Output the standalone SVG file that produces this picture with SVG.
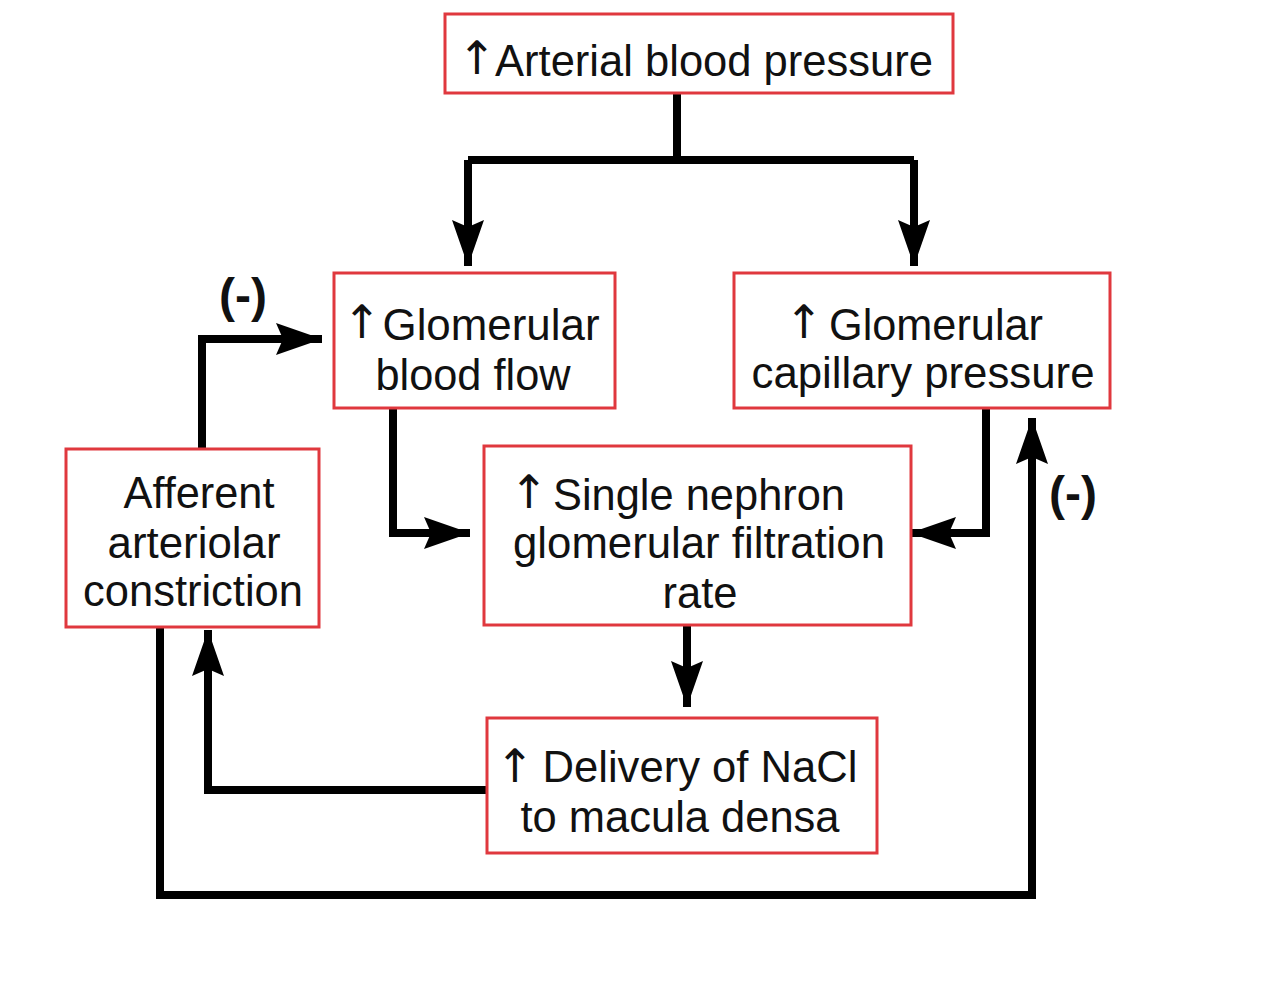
<svg xmlns="http://www.w3.org/2000/svg" width="1270" height="996" viewBox="0 0 1270 996">
<defs>
<marker id="ah" markerUnits="userSpaceOnUse" markerWidth="50" markerHeight="40" refX="46" refY="18" orient="auto">
<path d="M46,18 L0,2 L7,18 L0,34 Z" fill="#000"/>
</marker>
<style>
.box{fill:#fff;stroke:#e0383e;stroke-width:3}
.t{font-family:"Liberation Sans",Arial,sans-serif;font-size:44px;fill:#111;text-anchor:middle}
.up{font-family:"DejaVu Sans","Liberation Sans",sans-serif;font-size:46px;fill:#111;text-anchor:middle}
.c{fill:none;stroke:#000;stroke-width:8;stroke-linejoin:miter}
.m{font-family:"Liberation Sans",Arial,sans-serif;font-size:48px;font-weight:bold;fill:#111;text-anchor:middle}
</style>
</defs>
<rect width="1270" height="996" fill="#fff"/>
<g id="connectors">
<path class="c" d="M677,93 V160 M468,160 H914"/>
<path class="c" d="M468,160 V266" marker-end="url(#ah)"/>
<path class="c" d="M914,160 V266" marker-end="url(#ah)"/>
<path class="c" d="M202,449 V339 H322" marker-end="url(#ah)"/>
<path class="c" d="M393,408 V533 H470" marker-end="url(#ah)"/>
<path class="c" d="M986,408 V533 H910" marker-end="url(#ah)"/>
<path class="c" d="M687,625 V707" marker-end="url(#ah)"/>
<path class="c" d="M487,790 H208 V630" marker-end="url(#ah)"/>
<path class="c" d="M160,627 V895 H1032 V418" marker-end="url(#ah)"/>
<text class="m" x="243" y="312">(-)</text>
<text class="m" x="1073" y="510">(-)</text>
</g>
<g id="arterial">
<rect class="box" x="445" y="14" width="508" height="79"/>
<text class="up" x="477" y="74">↑</text>
<text class="t" x="714" y="76" textLength="438" lengthAdjust="spacingAndGlyphs">Arterial blood pressure</text>
</g>
<g id="gbf">
<rect class="box" x="334" y="273" width="281" height="135"/>
<text class="up" x="362" y="338">↑</text>
<text class="t" x="491" y="340" textLength="217" lengthAdjust="spacingAndGlyphs">Glomerular</text>
<text class="t" x="473" y="390" textLength="195" lengthAdjust="spacingAndGlyphs">blood flow</text>
</g>
<g id="gcp">
<rect class="box" x="734" y="273" width="376" height="135"/>
<text class="up" x="804" y="338">↑</text>
<text class="t" x="936" y="340" textLength="214" lengthAdjust="spacingAndGlyphs">Glomerular</text>
<text class="t" x="923" y="388" textLength="343" lengthAdjust="spacingAndGlyphs">capillary pressure</text>
</g>
<g id="afferent">
<rect class="box" x="66" y="449" width="253" height="178"/>
<text class="t" x="199" y="508" textLength="151" lengthAdjust="spacingAndGlyphs">Afferent</text>
<text class="t" x="194" y="558" textLength="173" lengthAdjust="spacingAndGlyphs">arteriolar</text>
<text class="t" x="193" y="606" textLength="220" lengthAdjust="spacingAndGlyphs">constriction</text>
</g>
<g id="sngfr">
<rect class="box" x="484" y="446" width="427" height="179"/>
<text class="up" x="529" y="508">↑</text>
<text class="t" x="699" y="510" textLength="292" lengthAdjust="spacingAndGlyphs">Single nephron</text>
<text class="t" x="699" y="558" textLength="372" lengthAdjust="spacingAndGlyphs">glomerular filtration</text>
<text class="t" x="700" y="608" textLength="75" lengthAdjust="spacingAndGlyphs">rate</text>
</g>
<g id="nacl">
<rect class="box" x="487" y="718" width="390" height="135"/>
<text class="up" x="515" y="782">↑</text>
<text class="t" x="700" y="782" textLength="315" lengthAdjust="spacingAndGlyphs">Delivery of NaCl</text>
<text class="t" x="680" y="832" textLength="319" lengthAdjust="spacingAndGlyphs">to macula densa</text>
</g>
</svg>
